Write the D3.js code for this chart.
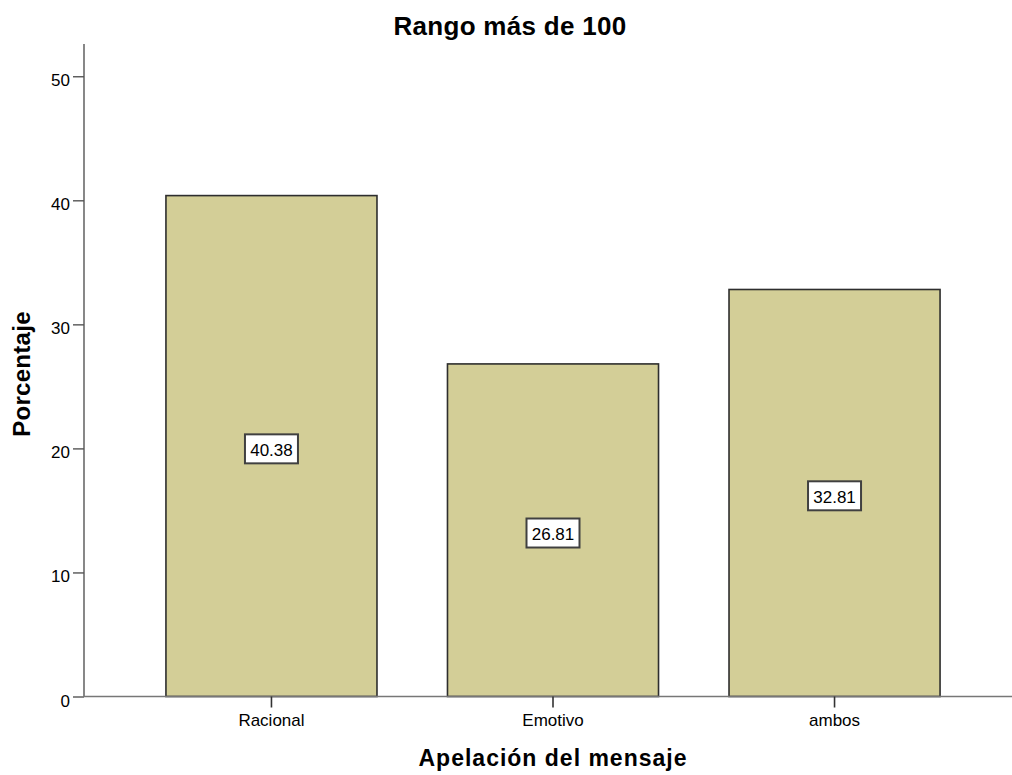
<!DOCTYPE html>
<html>
<head>
<meta charset="utf-8">
<script src="https://cdn.jsdelivr.net/npm/d3@7"></script>
<style>
  html, body { margin: 0; padding: 0; background: #fff; }
  svg { display: block; }
  text { font-family: "Liberation Sans", Arial, sans-serif; fill: #000; }
</style>
</head>
<body>
<script>
// Percentage of messages by appeal type
const categories = ["Racional", "Emotivo", "ambos"];
const values = [40.38, 26.81, 32.81];
const yTicks = [0, 10, 20, 30, 40, 50];
const title = "Rango más de 100";
const xTitle = "Apelación del mensaje";
const yTitle = "Porcentaje";

const width = 1012, height = 775;
const svg = d3.select("body").append("svg")
  .attr("width", width).attr("height", height);

const x = d3.scaleBand()
  .domain(categories)
  .range([130.75, 975.25])
  .paddingInner(0.2504)
  .paddingOuter(0.125);

const y = d3.scaleLinear().domain([0, 52.6]).range([696.5, 44]);

// Bars
svg.append("g").selectAll("rect")
  .data(categories)
  .join("rect")
  .attr("x", d => x(d))
  .attr("y", (d, i) => y(values[i]))
  .attr("width", x.bandwidth())
  .attr("height", (d, i) => y(0) - y(values[i]))
  .attr("fill", "#d3ce97")
  .attr("stroke", "#2e2e2e")
  .attr("stroke-width", 1.6);

// Y axis
const yAxis = svg.append("g")
  .attr("transform", "translate(84,0)")
  .call(d3.axisLeft(y).tickValues(yTicks).tickSize(11).tickPadding(3));
yAxis.select(".domain").attr("d", `M0,${y(0)}V${y.range()[1]}`);
yAxis.selectAll("path, line").attr("stroke", "#555").attr("stroke-width", 1.4);
yAxis.selectAll("text")
  .attr("font-size", 17)
  .attr("font-family", "Liberation Sans, Arial, sans-serif")
  .attr("fill", "#222")
  .attr("dy", "0.56em");

// X axis
const xAxis = svg.append("g")
  .attr("transform", `translate(0,${y(0)})`)
  .call(d3.axisBottom(x).tickSize(11).tickPadding(4));
xAxis.select(".domain").attr("d", "M84,0H1012");
xAxis.selectAll("path").attr("stroke", "#777").attr("stroke-width", 1.4);
xAxis.selectAll("line").attr("stroke", "#333").attr("stroke-width", 1.6);
xAxis.selectAll("text")
  .attr("font-size", 17)
  .attr("font-family", "Liberation Sans, Arial, sans-serif")
  .attr("fill", "#222")
  .attr("dy", "0.85em");

// Value labels in boxes at the middle of each bar
const lab = svg.append("g").selectAll("g")
  .data(categories)
  .join("g")
  .attr("transform", (d, i) => `translate(${x(d) + x.bandwidth() / 2},${y(values[i] / 2) + 2.8})`);
lab.append("rect")
  .attr("x", -26.5).attr("y", -14.5)
  .attr("width", 53).attr("height", 29)
  .attr("fill", "#fff")
  .attr("stroke", "#404040")
  .attr("stroke-width", 2);
lab.append("text")
  .attr("text-anchor", "middle")
  .attr("y", 7)
  .attr("font-size", 17)
  .text((d, i) => values[i].toFixed(2));

// Titles
svg.append("text")
  .attr("x", 510).attr("y", 34.5)
  .attr("text-anchor", "middle")
  .attr("font-size", 26)
  .attr("font-weight", "bold")
  .attr("letter-spacing", "0.3px")
  .text(title);

svg.append("text")
  .attr("transform", "translate(30,374) rotate(-90)")
  .attr("text-anchor", "middle")
  .attr("font-size", 24)
  .attr("font-weight", "bold")
  .attr("letter-spacing", "0.3px")
  .text(yTitle);

svg.append("text")
  .attr("x", 553).attr("y", 766)
  .attr("text-anchor", "middle")
  .attr("font-size", 23)
  .attr("font-weight", "bold")
  .attr("letter-spacing", "1px")
  .text(xTitle);
</script>
</body>
</html>
